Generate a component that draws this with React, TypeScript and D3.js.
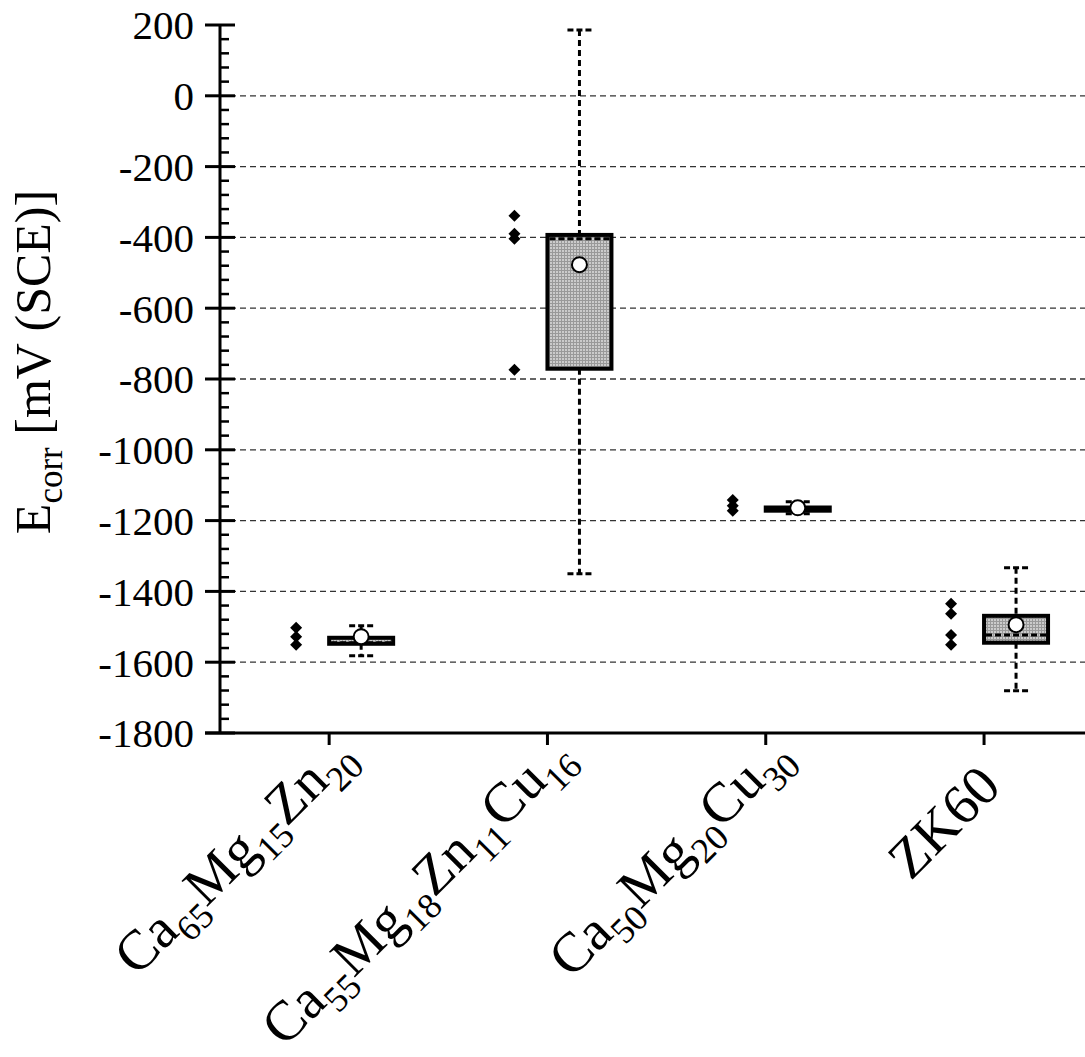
import React from 'react';
import * as d3 from 'd3';

// alloy names, split into [text, subscript] pieces
const categories = ['Ca65Mg15Zn20', 'Ca55Mg18Zn11Cu16', 'Ca50Mg20Cu30', 'ZK60'];
const labelParts: [string, string][][] = [
  [['Ca', '65'], ['Mg', '15'], ['Zn', '20']],
  [['Ca', '55'], ['Mg', '18'], ['Zn', '11'], ['Cu', '16']],
  [['Ca', '50'], ['Mg', '20'], ['Cu', '30']],
  [['ZK60', '']],
];

// box statistics (mV)
const whiskerMax = [-1497, 186, -1147, -1333];
const q3 = [-1531, -393, -1163, -1469];
const median = [-1545, -404, -1168, -1523];
const q1 = [-1548, -771, -1172, -1545];
const whiskerMin = [-1582, -1350, -1181, -1681];
const mean = [-1528, -477, -1164, -1494];
const points = [
  [-1503, -1528, -1551],
  [-339, -390, -404, -774],
  [-1142, -1158, -1172],
  [-1435, -1463, -1523, -1551],
];

const yTicks = [200, 0, -200, -400, -600, -800, -1000, -1200, -1400, -1600, -1800];
const gridValues = [0, -200, -400, -600, -800, -1000, -1200, -1400, -1600];

const W = 1085;
const H = 1057;
const left = 220;
const top = 25;
const bottom = 733;
const font = '"Liberation Serif", "Times New Roman", serif';

const App = () => {
  const y = d3.scaleLinear().domain([-1800, 200]).range([bottom, top]);
  const x = d3.scaleBand().domain(categories).range([left, left + 4 * 218.3]).padding(0);
  const cx = (c: string) => (x(c) as number) + x.bandwidth() / 2;
  const minorTicks = d3.range(-1800, 201, 40).filter(v => v % 200 !== 0);
  const boxOff = 32;
  const boxW = 64;
  const capW = 24;
  const diamond = d3.symbol().type(d3.symbolSquare).size(72)();

  return (
    <svg width={W} height={H} style={{ position: 'absolute', left: 0, top: 0, background: '#fff' }} fontFamily={font}>
      <defs>
        <pattern id="hatch" width={3} height={3} patternUnits="userSpaceOnUse">
          <rect width={3} height={3} fill="#cbcbcb" />
          <path d="M0 0.5H3M0.5 0V3" stroke="#999" strokeWidth={1} />
        </pattern>
      </defs>

      {/* grid */}
      {gridValues.map(v => (
        <line key={'g' + v} x1={left} x2={W} y1={y(v)} y2={y(v)} stroke="#333" strokeWidth={1.3} strokeDasharray="6 4" />
      ))}

      {/* boxes */}
      {categories.map((c, i) => {
        const bx = cx(c) + boxOff;
        return (
          <g key={c}>
            <line x1={bx} x2={bx} y1={y(whiskerMax[i])} y2={y(q3[i])} stroke="#000" strokeWidth={3} strokeDasharray="6 4" />
            <line x1={bx} x2={bx} y1={y(q1[i])} y2={y(whiskerMin[i])} stroke="#000" strokeWidth={3} strokeDasharray="6 4" />
            <line x1={bx - capW / 2} x2={bx + capW / 2} y1={y(whiskerMax[i])} y2={y(whiskerMax[i])} stroke="#000" strokeWidth={3} strokeDasharray="6 3" />
            <line x1={bx - capW / 2} x2={bx + capW / 2} y1={y(whiskerMin[i])} y2={y(whiskerMin[i])} stroke="#000" strokeWidth={3} strokeDasharray="6 3" />
            <rect x={bx - boxW / 2} width={boxW} y={y(q3[i])} height={y(q1[i]) - y(q3[i])} fill="url(#hatch)" stroke="#000" strokeWidth={4} />
            <line x1={bx - boxW / 2 + 2} x2={bx + boxW / 2 - 2} y1={y(median[i])} y2={y(median[i])} stroke="#000" strokeWidth={3} strokeDasharray="6 3" />
            <circle cx={bx} cy={y(mean[i])} r={7.5} fill="#fff" stroke="#000" strokeWidth={2} />
            {points[i].map((p, j) => (
              <path key={j} d={diamond as string} transform={`translate(${cx(c) - 33},${y(p)}) rotate(45)`} fill="#000" />
            ))}
          </g>
        );
      })}

      {/* y axis */}
      <line x1={left} x2={left} y1={top} y2={bottom} stroke="#000" strokeWidth={3} />
      {yTicks.map(v => (
        <g key={'t' + v}>
          <line x1={left - 15} x2={left + 15} y1={y(v)} y2={y(v)} stroke="#000" strokeWidth={3} />
          <text x={194} y={y(v)} dy="0.35em" textAnchor="end" fontSize={41}>{v}</text>
        </g>
      ))}
      {minorTicks.map(v => (
        <line key={'m' + v} x1={left} x2={left + 9} y1={y(v)} y2={y(v)} stroke="#000" strokeWidth={2.5} />
      ))}

      {/* x axis */}
      <line x1={left - 15} x2={W} y1={bottom} y2={bottom} stroke="#000" strokeWidth={3} />
      {categories.map((c, i) => {
        const hasSub = labelParts[i].some(p => p[1] !== '');
        const ax = cx(c) + (hasSub ? 27 : 19);
        const ay = hasSub ? 758 : 789;
        return (
          <g key={'x' + c}>
            <line x1={cx(c)} x2={cx(c)} y1={bottom} y2={bottom + 12} stroke="#000" strokeWidth={3} />
            <text transform={`translate(${ax},${ay}) rotate(-45)`} textAnchor="end" fontSize={56}>
              {labelParts[i].map(([t, s], k) => (
                <React.Fragment key={k}>
                  <tspan dy={k === 0 ? 0 : -14}>{t}</tspan>
                  {s && <tspan fontSize={36} dy={14}>{s}</tspan>}
                </React.Fragment>
              ))}
            </text>
          </g>
        );
      })}

      {/* y label */}
      <text transform="translate(50,362) rotate(-90)" textAnchor="middle" fontSize={50}>
        <tspan>E</tspan>
        <tspan fontSize={35} dy={12}>corr</tspan>
        <tspan dy={-12}> [mV (SCE)]</tspan>
      </text>
    </svg>
  );
};

export default App;
